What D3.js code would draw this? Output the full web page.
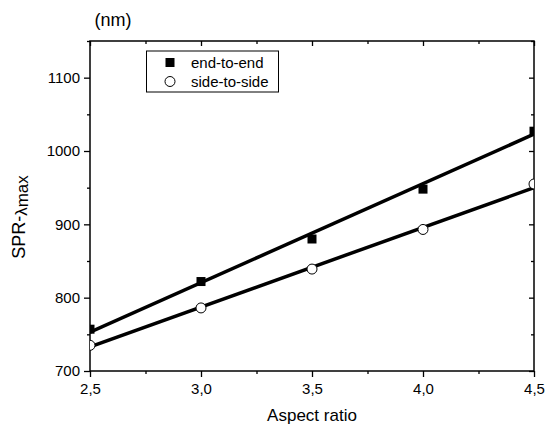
<!DOCTYPE html>
<html>
<head>
<meta charset="utf-8">
<script src="https://cdn.jsdelivr.net/npm/d3@7"></script>
<style>
  body { margin: 0; background: #fff; }
  text { font-family: "Liberation Sans", Arial, sans-serif; fill: #000; }
</style>
</head>
<body>
<script>
// aspect ratio values
const ratios = [2.5, 3.0, 3.5, 4.0, 4.5];
// SPR lambda max (nm)
const endToEnd = [757, 822, 880, 948, 1027];
const sideToSide = [735, 786, 839, 893, 955];
// fitted lines, end points
const fitX = [2.5, 4.5];
const fitEnd = [753, 1023];
const fitSide = [733, 950];

const xTicks = [2.5, 3.0, 3.5, 4.0, 4.5];
const yTicks = [700, 800, 900, 1000, 1100];

const w = 547, h = 424;
const pLeft = 90, pRight = 534, pTop = 41, pBottom = 371;

const svg = d3.select("body").append("svg")
  .attr("width", w)
  .attr("height", h);

const x = d3.scaleLinear().domain([2.5, 4.5]).range([pLeft, pRight]);
const y = d3.scaleLinear().domain([700, 1150]).range([pBottom, pTop]);

const fmt = d3.format(".1f");
const comma = d => fmt(d).replace(".", ",");

// minor ticks
const xMinor = d3.range(2.75, 4.5, 0.5);
const yMinor = d3.range(750, 1151, 100);

// bottom axis
svg.append("g")
  .attr("transform", "translate(0," + pBottom + ")")
  .call(d3.axisBottom(x).tickValues(xTicks).tickFormat(comma).tickSize(6).tickPadding(6))
  .call(g => g.selectAll("text").attr("font-size", 15));
svg.append("g")
  .attr("transform", "translate(0," + pBottom + ")")
  .call(d3.axisBottom(x).tickValues(xMinor).tickFormat("").tickSize(3));

// top axis (inward)
svg.append("g")
  .attr("transform", "translate(0," + pTop + ")")
  .call(d3.axisBottom(x).tickValues(xTicks).tickFormat("").tickSize(5));
svg.append("g")
  .attr("transform", "translate(0," + pTop + ")")
  .call(d3.axisBottom(x).tickValues(xMinor).tickFormat("").tickSize(3));

// left axis
svg.append("g")
  .attr("transform", "translate(" + pLeft + ",0)")
  .call(d3.axisLeft(y).tickValues(yTicks).tickFormat(d3.format("d")).tickSize(6).tickPadding(4))
  .call(g => g.selectAll("text").attr("font-size", 15));
svg.append("g")
  .attr("transform", "translate(" + pLeft + ",0)")
  .call(d3.axisLeft(y).tickValues(yMinor).tickFormat("").tickSize(3));

// right axis (inward)
svg.append("g")
  .attr("transform", "translate(" + pRight + ",0)")
  .call(d3.axisLeft(y).tickValues(yTicks).tickFormat("").tickSize(5));
svg.append("g")
  .attr("transform", "translate(" + pRight + ",0)")
  .call(d3.axisLeft(y).tickValues(yMinor).tickFormat("").tickSize(3));

svg.selectAll(".domain").remove();
svg.selectAll("g").attr("font-family", null);
svg.selectAll(".tick line").attr("stroke", "#000").attr("stroke-width", 1.3);

// frame
svg.append("rect")
  .attr("x", pLeft).attr("y", pTop)
  .attr("width", pRight - pLeft).attr("height", pBottom - pTop)
  .attr("fill", "none").attr("stroke", "#000").attr("stroke-width", 1.5);

svg.append("clipPath").attr("id", "plot")
  .append("rect")
  .attr("x", pLeft).attr("y", pTop)
  .attr("width", pRight - pLeft).attr("height", pBottom - pTop);

const plot = svg.append("g").attr("clip-path", "url(#plot)");

const line = d3.line().x(d => x(d[0])).y(d => y(d[1]));

[fitEnd, fitSide].forEach(f => {
  plot.append("path")
    .datum(fitX.map((v, i) => [v, f[i]]))
    .attr("fill", "none")
    .attr("stroke", "#000")
    .attr("stroke-width", 3.5)
    .attr("d", line);
});

const sq = 9;
plot.selectAll(".sq")
  .data(ratios.map((v, i) => [v, endToEnd[i]]))
  .enter().append("rect")
  .attr("x", d => x(d[0]) - sq / 2)
  .attr("y", d => y(d[1]) - sq / 2)
  .attr("width", sq).attr("height", sq)
  .attr("fill", "#000");

plot.selectAll(".ci")
  .data(ratios.map((v, i) => [v, sideToSide[i]]))
  .enter().append("circle")
  .attr("cx", d => x(d[0]))
  .attr("cy", d => y(d[1]))
  .attr("r", 5)
  .attr("fill", "#fff")
  .attr("stroke", "#000")
  .attr("stroke-width", 1);

// legend
const lg = svg.append("g");
lg.append("rect")
  .attr("x", 146.5).attr("y", 51)
  .attr("width", 132).attr("height", 41)
  .attr("fill", "#fff").attr("stroke", "#000").attr("stroke-width", 1);
lg.append("rect")
  .attr("x", 170 - sq / 2).attr("y", 62.5 - sq / 2)
  .attr("width", sq).attr("height", sq).attr("fill", "#000");
lg.append("circle")
  .attr("cx", 170).attr("cy", 81.5).attr("r", 5)
  .attr("fill", "#fff").attr("stroke", "#000");
lg.append("text").attr("x", 191).attr("y", 68).attr("font-size", 15).text("end-to-end");
lg.append("text").attr("x", 191).attr("y", 87).attr("font-size", 15).text("side-to-side");

// titles
svg.append("text")
  .attr("x", 113).attr("y", 26)
  .attr("text-anchor", "middle")
  .attr("font-size", 18)
  .text("(nm)");

svg.append("text")
  .attr("x", (pLeft + pRight) / 2).attr("y", 421)
  .attr("text-anchor", "middle")
  .attr("font-size", 17)
  .text("Aspect ratio");

const yl = svg.append("text")
  .attr("transform", "translate(25,217) rotate(-90)")
  .attr("text-anchor", "middle")
  .attr("font-size", 18);
yl.append("tspan").text("SPR-");
yl.append("tspan").attr("dy", 1.5).attr("font-size", 17).text("λ");
yl.append("tspan").attr("dy", 1.5).attr("font-size", 17).text("max");
</script>
</body>
</html>
